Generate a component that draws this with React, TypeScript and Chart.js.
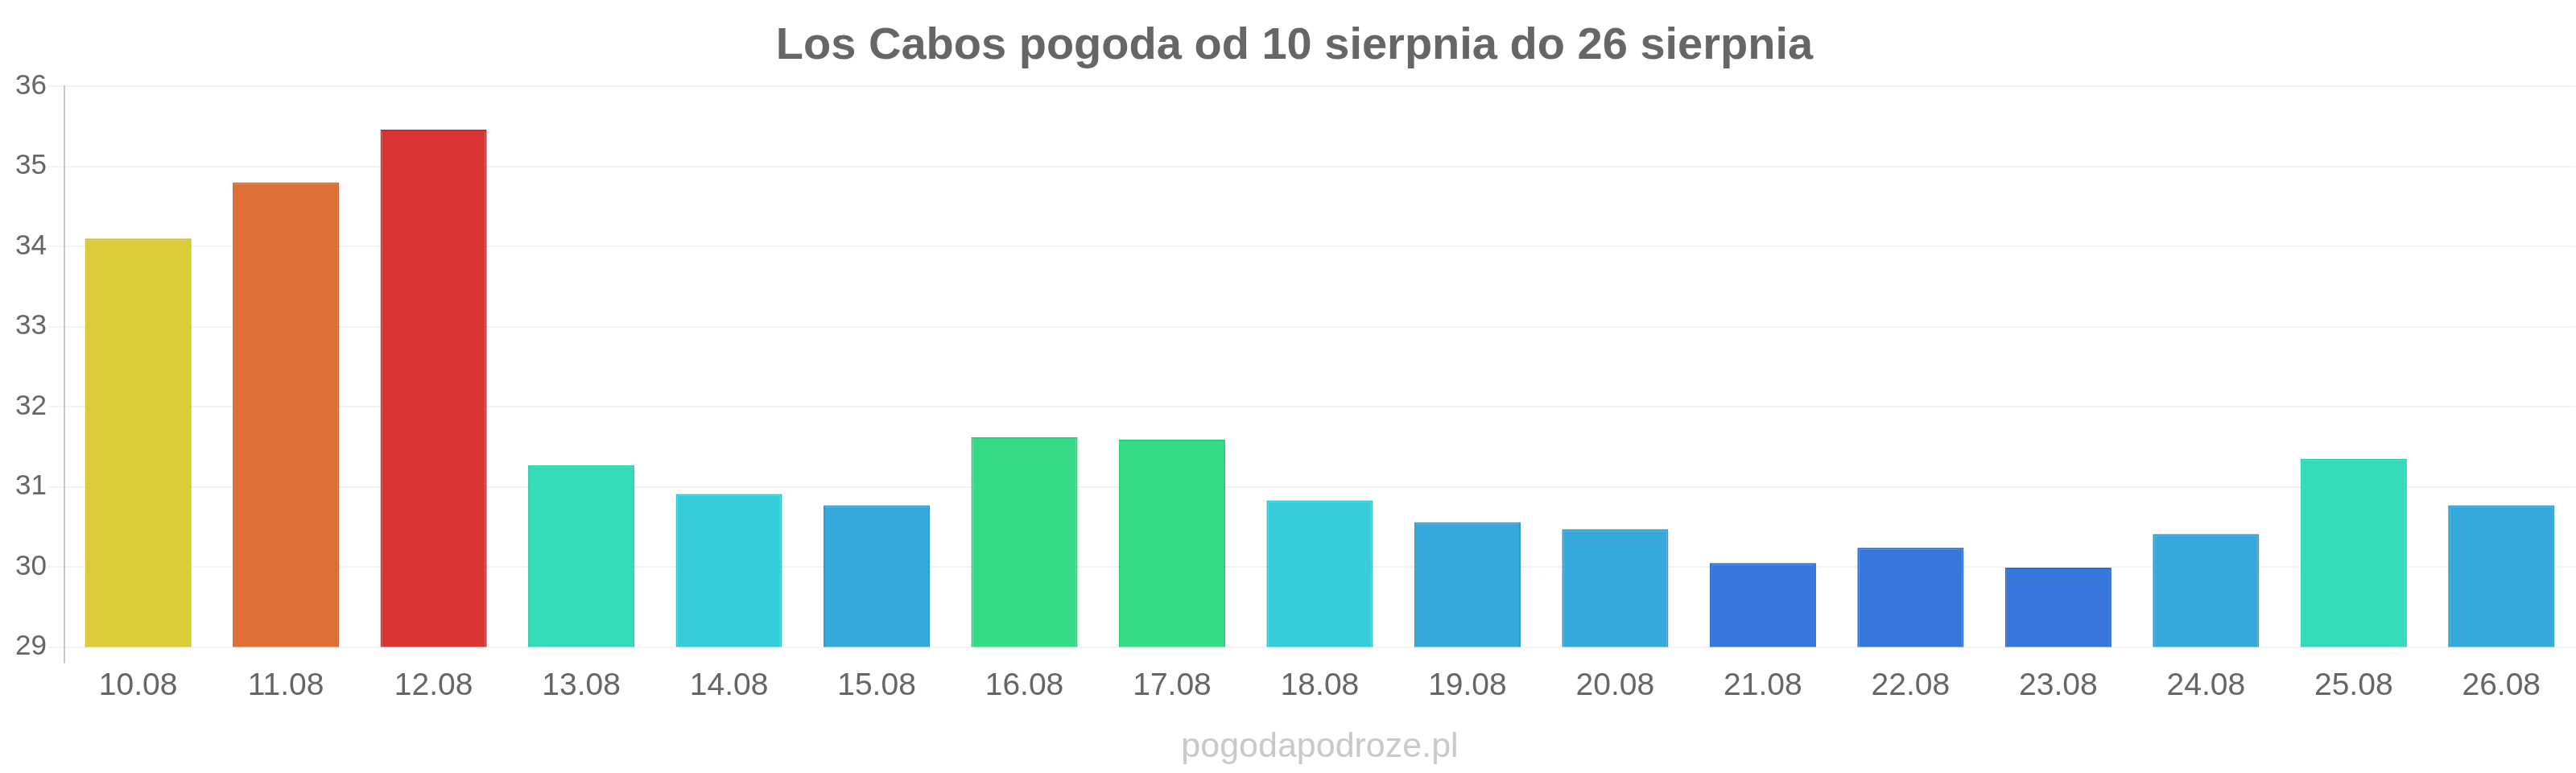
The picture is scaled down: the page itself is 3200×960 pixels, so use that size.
import React, { useEffect, useRef } from "react";
import { Chart, registerables } from "chart.js";

Chart.register(...registerables);

const categories = ["10.08", "11.08", "12.08", "13.08", "14.08", "15.08", "16.08", "17.08", "18.08", "19.08", "20.08", "21.08", "22.08", "23.08", "24.08", "25.08", "26.08"];
const temperatures = [34.1, 34.8, 35.46, 31.27, 30.91, 30.77, 31.62, 31.59, 30.83, 30.56, 30.47, 30.05, 30.24, 29.99, 30.41, 31.35, 30.77];
const yTicks = [29, 30, 31, 32, 33, 34, 35, 36];
const titleText = "Los Cabos pogoda od 10 sierpnia do 26 sierpnia";
const sourceText = "pogodapodroze.pl";

const YELLOW = ["#dbcb36", "#cdbd2d"];
const ORANGE = ["#dd6f36", "#cf642d"];
const RED = ["#da3535", "#cc2e2e"];
const TEAL = ["#35dbb8", "#2ccdaa"];
const CYAN = ["#36cdda", "#2dbfcc"];
const BLUE = ["#36a8db", "#2d9acd"];
const GREEN = ["#36db88", "#2dcd7b"];
const DBLUE = ["#3677db", "#2d6acd"];
const barColors = [YELLOW, ORANGE, RED, TEAL, CYAN, BLUE, GREEN, GREEN, CYAN, BLUE, BLUE, DBLUE, DBLUE, DBLUE, BLUE, TEAL, BLUE];

const FONT = "'Liberation Sans', Arial, Helvetica, sans-serif";

export default function App() {
  const ref = useRef<HTMLCanvasElement | null>(null);
  useEffect(() => {
    if (!ref.current) return;
    const chart = new Chart(ref.current, {
      type: "bar",
      data: {
        labels: categories,
        datasets: [
          {
            data: temperatures,
            backgroundColor: barColors.map((c) => c[0]),
            borderColor: barColors.map((c) => c[1]),
            borderWidth: 2,
          },
        ],
      },
      options: {
        animation: false,
        responsive: true,
        maintainAspectRatio: false,
        devicePixelRatio: 1,
        layout: { padding: { left: 17, right: 1, top: 0, bottom: 0 } },
        plugins: {
          legend: { display: false },
          tooltip: { enabled: false },
          title: {
            display: true,
            text: titleText,
            color: "#666666",
            font: { family: FONT, size: 56, weight: "bold" },
            padding: { top: 24, bottom: 16 },
          },
        },
        scales: {
          x: {
            border: { display: false },
            grid: {
              display: true,
              drawOnChartArea: false,
              tickLength: 20,
              lineWidth: 2,
              color: (ctx: any) => (ctx.index === 0 ? "#c4c4c4" : "rgba(0,0,0,0)"),
            },
            ticks: {
              color: "#666666",
              font: { family: FONT, size: 39 },
              padding: 5,
              maxRotation: 0,
            },
            title: {
              display: true,
              text: sourceText,
              color: "#c8c9cd",
              font: { family: FONT, size: 43 },
              padding: { top: 22, bottom: 6 },
            },
          },
          y: {
            min: yTicks[0],
            max: yTicks[yTicks.length - 1],
            afterBuildTicks: (axis: any) => {
              axis.ticks = yTicks.map((v) => ({ value: v }));
            },
            border: { display: true, color: "#c4c4c4", width: 2 },
            grid: {
              color: "#f3f3f3",
              lineWidth: 2,
              tickLength: 20,
            },
            ticks: {
              color: "#666666",
              font: { family: FONT, size: 35 },
              padding: 2,
            },
          },
        },
      },
    });
    return () => chart.destroy();
  }, []);
  return (
    <div style={{ position: "fixed", left: 0, top: 0, width: 3200, height: 960, background: "#ffffff" }}>
      <canvas ref={ref} />
    </div>
  );
}
